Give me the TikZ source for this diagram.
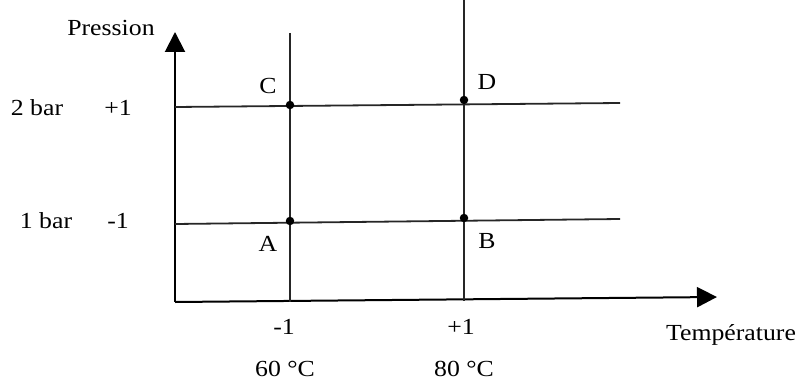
\documentclass[tikz,border=0pt]{standalone}
\usepackage{fontspec}
\setmainfont[FakeStretch=1.12]{Liberation Serif}
\usetikzlibrary{arrows.meta}
\begin{document}
\begin{tikzpicture}[x=1pt,y=-1pt,
  lbl/.style={anchor=base,inner sep=0pt,font=\fontsize{23}{27}\selectfont},
  gridline/.style={line width=1.8pt,black!85},
  axis/.style={line width=2pt,-{Triangle[length=20pt,width=20pt]}},
  pt/.style={circle,fill=black,inner sep=0pt,minimum size=8.5pt}]
\useasboundingbox (0,0) rectangle (799,382);
% axes
\coordinate (O) at (175,302);
\coordinate (ytip) at (175,32);
\coordinate (xtip) at (717,297);
\draw[axis] (O) -- (ytip);
\draw[axis] (O) -- (xtip);
% grid lines
\coordinate (v1t) at (290,33);
\coordinate (v1b) at (290,302);
\coordinate (v2t) at (464,0);
\coordinate (v2b) at (464,301);
\coordinate (h2l) at (175,107);
\coordinate (h2r) at (620,103);
\coordinate (h1l) at (175,224);
\coordinate (h1r) at (620,219);
\draw[gridline] (v1t) -- (v1b);
\draw[gridline] (v2t) -- (v2b);
\draw[gridline] (h2l) -- (h2r);
\draw[gridline] (h1l) -- (h1r);
% points
\node[pt] (pC) at (290,105) {};
\node[pt] (pD) at (464,100) {};
\node[pt] (pA) at (290,221) {};
\node[pt] (pB) at (464,218) {};
% labels
\node[lbl] (tP) at (111,36) {Pression};
\node[lbl] (t2bar) at (37,116) {2 bar};
\node[lbl] (tp1y) at (118,116) {+1};
\node[lbl] (t1bar) at (46,228) {1 bar};
\node[lbl] (tm1y) at (118,228) {-1};
\node[lbl] (tC) at (268,94) {C};
\node[lbl] (tD) at (487,90) {D};
\node[lbl] (tA) at (268,251) {A};
\node[lbl] (tB) at (487,248) {B};
\node[lbl] (tm1x) at (284,334) {-1};
\node[lbl] (tp1x) at (461,334) {+1};
\node[lbl] (tT) at (731,340) {Température};
\node[lbl] (t60) at (285,376) {60 °C};
\node[lbl] (t80) at (464,376) {80 °C};
\end{tikzpicture}
\end{document}
